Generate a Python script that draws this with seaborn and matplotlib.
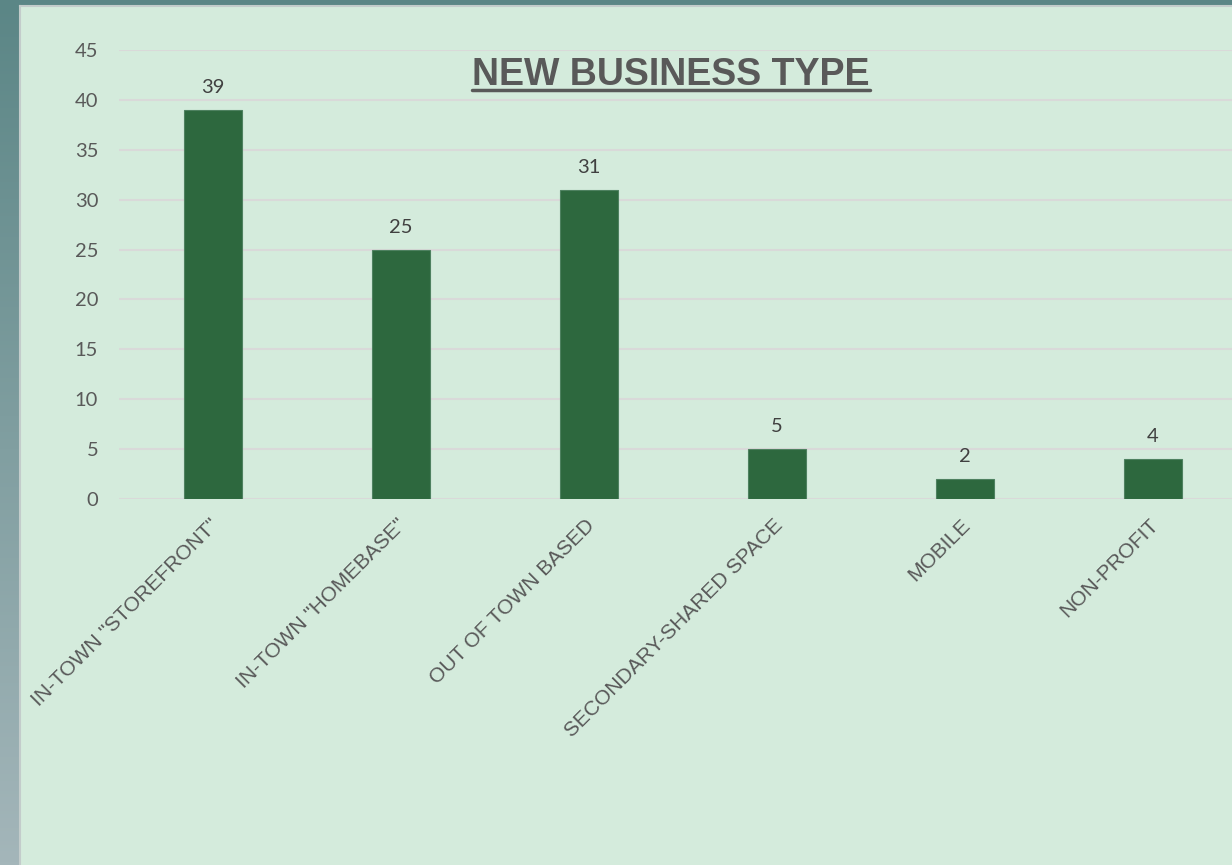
import numpy as np
import pandas as pd
import seaborn as sns
import matplotlib.pyplot as plt
import matplotlib.transforms as mtransforms
from matplotlib.colors import LinearSegmentedColormap

categories = ['IN-TOWN "STOREFRONT"', 'IN-TOWN "HOMEBASE"', 'OUT OF TOWN BASED',
              'SECONDARY-SHARED SPACE', 'MOBILE', 'NON-PROFIT']
counts = [39, 25, 31, 5, 2, 4]
y_ticks = [0, 5, 10, 15, 20, 25, 30, 35, 40, 45]

df = pd.DataFrame({'type': categories, 'count': counts})

sns.set_theme(style='white')
plt.rcParams['font.family'] = ['Liberation Sans', 'DejaVu Sans']

W, H = 1232, 865
fig = plt.figure(figsize=(W / 100, H / 100), dpi=100)
fig.patch.set_facecolor('#5c8686')

# left strip gradient (teal -> grey-blue)
bg = fig.add_axes([0, 0, 1, 1], zorder=-10)
grad = np.linspace(0, 1, 256).reshape(-1, 1)
cmap = LinearSegmentedColormap.from_list('bg', ['#5b8686', '#a4b6ba'])
bg.imshow(grad, aspect='auto', cmap=cmap, extent=[0, 1, 0, 1])
bg.set_axis_off()

# light green panel
panel = fig.add_axes([20 / W, 0, 1 - 20 / W, (H - 6) / H], zorder=-5)
panel.set_facecolor('#d4ebdc')
panel.set_xticks([])
panel.set_yticks([])
for s in panel.spines.values():
    s.set_edgecolor('#c3cccb')
    s.set_linewidth(1.5)
panel.spines['right'].set_visible(False)
panel.spines['bottom'].set_visible(False)

left, right = 119 / W, 1.0
bottom, top = (H - 499) / H, (H - 50) / H
ax = fig.add_axes([left, bottom, right - left, top - bottom])
ax.patch.set_alpha(0)

sns.barplot(data=df, x='type', y='count', color='#2d683e', width=0.305,
            edgecolor='#4e8160', linewidth=0.8, saturation=1, ax=ax, zorder=3)

px_per_cat = 188
ax.set_xlim(-0.5, (W - 119) / px_per_cat - 0.5)
ax.set_ylim(0, 45)
ax.set_yticks(y_ticks)
ax.yaxis.grid(True, color='#d9d9d9', linewidth=1.5)
ax.set_axisbelow(True)
for s in ax.spines.values():
    s.set_visible(False)
ax.set_xlabel('')
ax.set_ylabel('')
ax.tick_params(axis='y', length=0, pad=15, labelsize=14.5, labelcolor='#595959')
ax.tick_params(axis='x', length=0, pad=12, labelsize=15, labelcolor='#595959')
for t in ax.get_yticklabels():
    t.set_family(['Lato', 'DejaVu Sans'])
shift = mtransforms.ScaledTranslation(-4 / 100, 0, fig.dpi_scale_trans)
for t in ax.get_xticklabels():
    t.set_rotation(45)
    t.set_ha('right')
    t.set_rotation_mode('anchor')
    t.set_transform(t.get_transform() + shift)

for i, v in enumerate(counts):
    ax.annotate(str(v), (i, v), xytext=(0, 10), textcoords='offset points',
                ha='center', va='bottom', fontsize=14.5, color='#404040',
                family=['Lato', 'DejaVu Sans'])

title = ax.text(0.496, 0.945, 'NEW BUSINESS TYPE', transform=ax.transAxes,
                ha='center', va='center', fontsize=27, fontweight='bold',
                color='#595959')

fig.canvas.draw()
bb = title.get_window_extent()
uy = bb.y0 + 3
fig.add_artist(plt.Line2D([bb.x0 / W, bb.x1 / W], [uy / H, uy / H],
                          color='#595959', linewidth=2.5))

fig.savefig('out.png', dpi=100)
